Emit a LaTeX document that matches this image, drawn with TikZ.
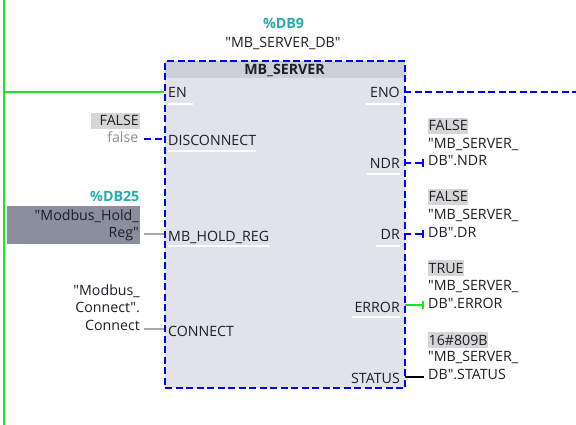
\documentclass[tikz,border=0pt]{standalone}
\usepackage{fontspec}
\setmainfont{Open Sans}[Ligatures=TeXOff]
\usetikzlibrary{arrows.meta}
\definecolor{txt}{HTML}{1E1E28}
\definecolor{teal}{HTML}{26ABAF}
\definecolor{plcblue}{HTML}{0000FF}
\definecolor{plcgreen}{HTML}{1EE61E}
\definecolor{body}{HTML}{E1E2EA}
\definecolor{head}{HTML}{CDCFDB}
\definecolor{darkbox}{HTML}{8A8E9D}
\definecolor{valbox}{HTML}{D6D6D6}
\definecolor{falsegray}{HTML}{909090}
\definecolor{wiregray}{HTML}{A8A8A8}
\newcommand{\plcfont}{\fontsize{14.2}{17.5}\selectfont}
\begin{document}
\begin{tikzpicture}[x=1pt,y=-1pt,
  every node/.style={inner sep=0pt, text=txt, font=\plcfont},
  bluedash/.style={draw=plcblue, line width=2.2pt, dash pattern=on 7pt off 3.5pt},
  greenwire/.style={draw=plcgreen, line width=2.5pt},
  graywire/.style={draw=wiregray, line width=1.6pt},
  blackwire/.style={draw=black, line width=2pt},
  outtick/.style={-{Bar[width=8pt, line width=1.8pt]}},
  pinl/.style={anchor=base west},
  pinr/.style={anchor=base east},
  uline/.style={draw=white, line width=1.2pt},
  valr/.style={fill=valbox, anchor=base west, inner xsep=0.5pt, inner ysep=1.5pt, text height=11.5pt, text depth=1.5pt},
  vall/.style={fill=valbox, anchor=base east, inner xsep=1pt, inner ysep=1.5pt, text height=11.5pt, text depth=1.5pt},
  opnd/.style={anchor=base west, align=left},
  opndl/.style={anchor=base east, align=right},
  dbname/.style={text=teal, font=\plcfont\bfseries}
]
\useasboundingbox[fill=white] (0,0) rectangle (576,425);

% power rail
\coordinate (railtop) at (4,0);
\coordinate (railbot) at (4,425);
\draw[greenwire] (railtop) -- (railbot);

% instance DB
\node[dbname, anchor=base] (db9) at (283.5,29) {\%DB9};
\node[anchor=base] (dbn) at (283,48) {"MB\_SERVER\_DB"};

% pin coordinates
\coordinate (en) at (164,92);
\coordinate (disc) at (164,139);
\coordinate (discsrc) at (144,139);
\coordinate (hold) at (164,234);
\coordinate (holdsrc) at (144,234);
\coordinate (conn) at (164,329);
\coordinate (connsrc) at (144,329);
\coordinate (eno) at (404,92);
\coordinate (enoend) at (576,92);
\coordinate (ndr) at (404,163);
\coordinate (ndrend) at (424,163);
\coordinate (dr) at (404,234);
\coordinate (drend) at (424,234);
\coordinate (err) at (404,305);
\coordinate (errend) at (424,305);
\coordinate (stat) at (404,377);
\coordinate (statend) at (424,377);

% connectors
\draw[greenwire] (railtop |- en) -- (en);
\draw[bluedash] (discsrc) -- (disc);
\draw[graywire] (holdsrc) -- (hold);
\draw[graywire] (connsrc) -- (conn);
\draw[bluedash] (eno) -- (enoend);
\draw[bluedash, outtick] (ndr) -- (ndrend);
\draw[bluedash, outtick] (dr) -- (drend);
\draw[greenwire, line width=2pt, outtick] (err) -- (errend);
\draw[blackwire] (stat) -- (statend);

% block
\node[bluedash, fill=body, minimum width=240pt, minimum height=327pt, anchor=north west,
  path picture={\fill[head] (path picture bounding box.north west) rectangle ([yshift=-17pt]path picture bounding box.north east);}]
  (blk) at (164,60) {};
\node[anchor=base, font=\plcfont\bfseries] (blkname) at (284.5,75) {MB\_SERVER};

% pin labels
\node[pinl] (enl) at (168,98) {EN};
\node[pinl] (discl) at (168,146) {DISCONNECT};
\node[pinl] (holdl) at (168,241) {MB\_HOLD\_REG};
\node[pinl] (connl) at (168,336) {CONNECT};
\node[pinr] (enol) at (400,98) {ENO};
\node[pinr] (ndrl) at (400,168) {NDR};
\node[pinr] (drl) at (400,240) {DR};
\node[pinr] (errl) at (400,312) {ERROR};
\node[pinr] (statl) at (400,383) {STATUS};

% label highlights
\draw[uline] ([yshift=-6pt]enl.base west) -- ([yshift=-6pt,xshift=6pt]enl.base east);
\draw[uline] ([yshift=-5pt]discl.base west) -- ([yshift=-5pt]discl.base east);
\draw[uline] ([yshift=-5pt]holdl.base west) -- ([yshift=-5pt]holdl.base east);
\draw[uline] ([yshift=-6pt,xshift=-4pt]enol.base west) -- ([yshift=-6pt]enol.base east);
\draw[uline] ([yshift=-6pt,xshift=-3pt]ndrl.base west) -- ([yshift=-6pt]ndrl.base east);
\draw[uline] ([yshift=-6pt,xshift=-4pt]drl.base west) -- ([yshift=-6pt]drl.base east);
\draw[uline] ([yshift=-5pt,xshift=-2pt]errl.base west) -- ([yshift=-5pt]errl.base east);

% input operands
\node[vall] (discval) at (140,126) {\hspace{8pt}FALSE};
\node[anchor=base east, text=falsegray] (discop) at (138.5,143) {false};
\node[dbname, anchor=base east] (db25) at (139.5,201) {\%DB25};
\node[fill=darkbox, anchor=base east, align=right, text width=131pt, inner xsep=1pt, inner ysep=3pt,
  text height=11pt, text depth=20.5pt] (holdop) at (140,220) {"Modbus\_Hold\_\\Reg"};
\node[opndl] (connop) at (140,330) {"Modbus\_\\Connect".\\Connect};

% output operands
\node[valr] (ndrval) at (428,131) {FALSE\hspace{10pt}};
\node[opnd] (ndrop) at (428,166) {"MB\_SERVER\_\\DB".NDR};
\node[valr] (drval) at (428,202) {FALSE\hspace{10pt}};
\node[opnd] (drop) at (428,237) {"MB\_SERVER\_\\DB".DR};
\node[valr] (errval) at (428,273) {TRUE\hspace{10pt}};
\node[opnd] (errop) at (428,308) {"MB\_SERVER\_\\DB".ERROR};
\node[valr] (statval) at (428,345) {16\#809B\hspace{9pt}};
\node[opnd] (statop) at (428,379) {"MB\_SERVER\_\\DB".STATUS};
\end{tikzpicture}
\end{document}
